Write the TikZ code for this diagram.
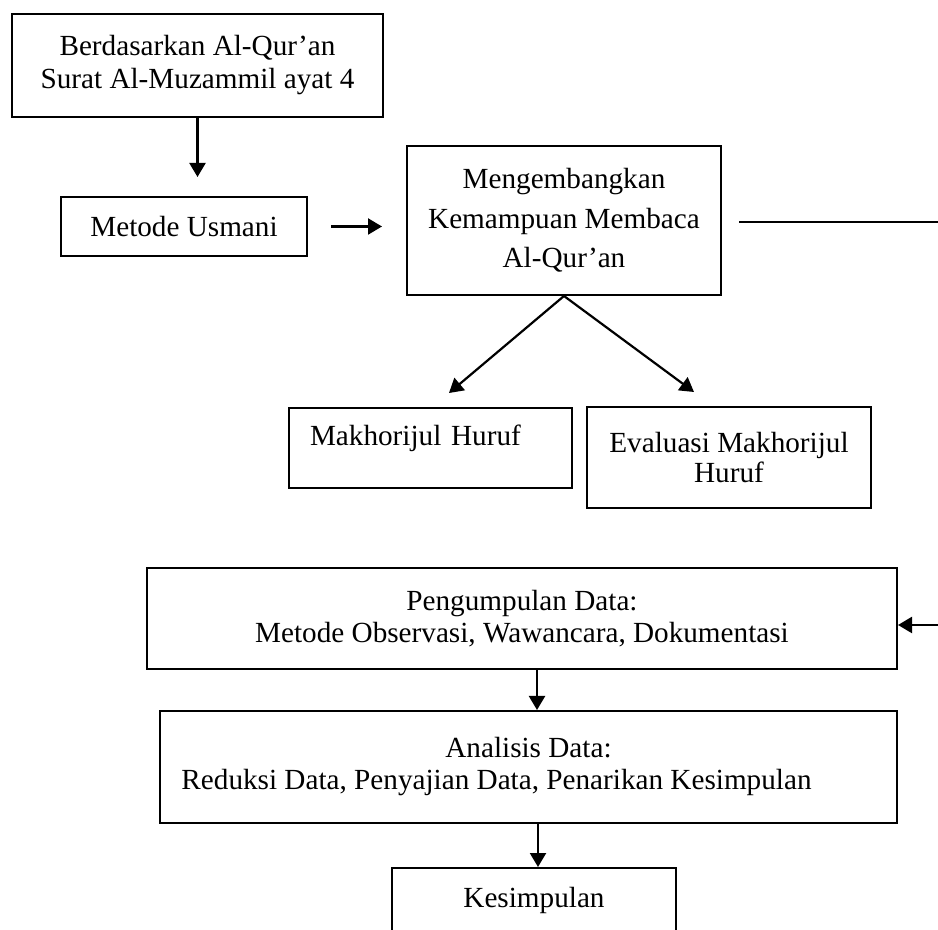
\documentclass[tikz,border=0pt]{standalone}
\usepackage{fontspec}
\setmainfont{Liberation Serif}
\usetikzlibrary{arrows.meta,
	calc,
	positioning}
\tikzstyle{kotak}=[draw, line width=1pt, align=center, inner sep=0pt]
\tikzstyle{panah}=[line width=1.1pt, -{Triangle[length=7pt,width=8pt]}]
\tikzstyle{garis}=[line width=1.1pt]

\begin{document}
\begin{tikzpicture}[x=0.5pt, y=-0.5pt, font=\fontsize{14.6pt}{16.5pt}\selectfont]
                \useasboundingbox (0,0) rectangle (938,930);
                \clip (0,0) rectangle (938,930);

                % bagian atas
                \node[kotak, minimum width=185.5pt, minimum height=51.5pt] (dasar) at (197.5,65.5) {Berdasarkan Al-Qur’an\\Surat Al-Muzammil ayat 4};
                \node[kotak, minimum width=123pt, minimum height=29.5pt] (usmani) at (184,226.5) {Metode Usmani};
                \node[kotak, minimum width=157pt, minimum height=74.5pt, font=\fontsize{14.6pt}{19.75pt}\selectfont] (kembang) at (564,220.5) {Mengembangkan\\Kemampuan Membaca\\Al-Qur’an};
                \node[kotak, anchor=north west, align=left, text width=120.5pt, inner xsep=10.5pt, text height=19pt, text depth=21pt] (huruf) at (288,407) {Makhorijul Huruf};
                \node[kotak, minimum width=142pt, minimum height=50.5pt, font=\fontsize{14.6pt}{15pt}\selectfont] (evaluasi) at (729,457.5) {Evaluasi Makhorijul\\Huruf};

                % bagian bawah
                \node[kotak, minimum width=375pt, minimum height=50.5pt, font=\fontsize{14.6pt}{16pt}\selectfont] (kumpul) at (522,618.5) {Pengumpulan Data:\\Metode Observasi, Wawancara, Dokumentasi};
                \node[kotak, minimum width=368.5pt, minimum height=56pt, font=\fontsize{14.6pt}{16pt}\selectfont] (analisis) at (528.5,767) {Analisis Data:\\Reduksi Data, Penyajian Data, Penarikan Kesimpulan\hspace*{32pt}};
                \node[kotak, anchor=north, minimum width=142pt, text height=19.5pt, text depth=30pt] (simpul) at (534,867) {Kesimpulan};

                \coordinate (tepi1) at (938,222);
                \coordinate (tepi2) at (938,625);

                % panah
                \draw[panah, shorten >=9.5pt] (dasar.south) -- (dasar.south |- usmani.north);
                \draw[panah, shorten <=11.5pt, shorten >=12pt] (usmani.east) -- (usmani.east -| kembang.west);
                \draw[garis, shorten <=8.5pt] (kembang.east |- tepi1) -- (tepi1);
                \draw[panah] (kembang.south) -- ([xshift=9.25pt, yshift=7pt]huruf.north);
                \draw[panah] (kembang.south) -- ([xshift=-17.5pt, yshift=7pt]evaluasi.north);
                \draw[panah] (tepi2) -- (tepi2 -| kumpul.east);
                \draw[panah] ([xshift=7.5pt]kumpul.south) -- ([xshift=7.5pt]kumpul.south |- analisis.north);
                \draw[panah] ([xshift=4.75pt]analisis.south) -- ([xshift=4.75pt]analisis.south |- simpul.north);
            \end{tikzpicture}
\end{document}
